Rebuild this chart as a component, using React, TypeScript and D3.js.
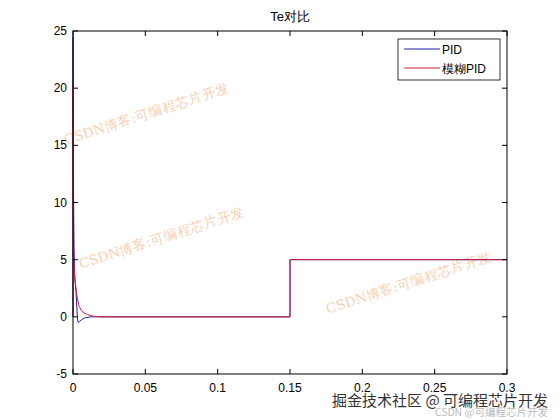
import * as d3 from "d3";

const W = 560;
const H = 420;
const M = { left: 73, right: 53, top: 31, bottom: 46 };

const xTicks = [0, 0.05, 0.1, 0.15, 0.2, 0.25, 0.3];
const yTicks = [-5, 0, 5, 10, 15, 20, 25];

// PID response (t, Te)
const pidT = [0, 0.00001, 0.0003, 0.0007, 0.0012, 0.0021, 0.0028, 0.0032, 0.0036, 0.0045, 0.006, 0.008, 0.012, 0.15, 0.15, 0.3];
const pidV = [0, 24.5, 12, 6, 3.5, 2.1, 0.5, -0.26, -0.5, -0.4, -0.25, -0.1, 0, 0, 5, 5];

// fuzzy PID response
const fuzT = [0, 0.00001, 0.0002, 0.0005, 0.001, 0.0016, 0.0025, 0.004, 0.006, 0.0076, 0.01, 0.014, 0.02, 0.15, 0.15, 0.3];
const fuzV = [0, 20.5, 10, 5, 3.8, 3.0, 2.0, 1.0, 0.5, 0.35, 0.2, 0.05, 0, 0, 5, 5];

const seriesNames = ["PID", "模糊PID"];
const seriesColors = ["#1c1ca6", "#d6203a"];

const watermark = "CSDN博客:可编程芯片开发";
const watermarkAt = [
  [148, 118],
  [163, 242],
  [410, 287],
];

export default function App() {
  const x = d3.scaleLinear().domain([0, 0.3]).range([M.left, W - M.right]);
  const y = d3.scaleLinear().domain([-5, 25]).range([H - M.bottom, M.top]);
  const line = d3
    .line<[number, number]>()
    .x((d) => x(d[0]))
    .y((d) => y(d[1]));

  const pid = pidT.map((t, i) => [t, pidV[i]] as [number, number]);
  const fuz = fuzT.map((t, i) => [t, fuzV[i]] as [number, number]);

  const x0 = M.left;
  const x1 = W - M.right;
  const y0 = H - M.bottom;
  const y1 = M.top;
  const font = "Liberation Sans, Arial, sans-serif";

  return (
    <svg width={W} height={H} style={{ position: "absolute", left: 0, top: 0, background: "#fff" }}>
      <text x={(x0 + x1) / 2} y={21} textAnchor="middle" fontFamily={font} fontSize={13}>
        Te对比
      </text>
      <rect x={x0} y={y1} width={x1 - x0} height={y0 - y1} fill="#fff" />

      {watermarkAt.map(([cx, cy], i) => (
        <text
          key={i}
          x={cx}
          y={cy}
          textAnchor="middle"
          fontFamily="DejaVu Serif, serif"
          fontSize={13.5}
          fill="#f8cfb2"
          transform={`rotate(-18 ${cx} ${cy})`}
        >
          {watermark}
        </text>
      ))}

      <path d={line(pid) ?? ""} fill="none" stroke={seriesColors[0]} strokeWidth={1} />
      <path d={line(fuz) ?? ""} fill="none" stroke={seriesColors[1]} strokeWidth={1} />

      <rect x={x0} y={y1} width={x1 - x0} height={y0 - y1} fill="none" stroke="#000" strokeWidth={1} />
      {xTicks.map((t) => (
        <g key={"x" + t}>
          <line x1={x(t)} x2={x(t)} y1={y0} y2={y0 - 5} stroke="#000" />
          <line x1={x(t)} x2={x(t)} y1={y1} y2={y1 + 5} stroke="#000" />
          <text x={x(t)} y={y0 + 18} textAnchor="middle" fontFamily={font} fontSize={12}>
            {t}
          </text>
        </g>
      ))}
      {yTicks.map((t) => (
        <g key={"y" + t}>
          <line x1={x0} x2={x0 + 5} y1={y(t)} y2={y(t)} stroke="#000" />
          <line x1={x1} x2={x1 - 5} y1={y(t)} y2={y(t)} stroke="#000" />
          <text x={x0 - 6} y={y(t) + 4} textAnchor="end" fontFamily={font} fontSize={12}>
            {t}
          </text>
        </g>
      ))}

      <g transform="translate(398,39)">
        <rect width={102} height={41} fill="#fff" stroke="#000" strokeWidth={0.8} />
        {seriesNames.map((n, i) => (
          <g key={n} transform={`translate(0,${10 + i * 19})`}>
            <line x1={6} x2={42} y1={0} y2={0} stroke={seriesColors[i]} />
            <text x={44} y={4.5} fontFamily={font} fontSize={12}>
              {n}
            </text>
          </g>
        ))}
      </g>

      <text x={548} y={406} textAnchor="end" fontFamily="Noto Sans CJK SC, sans-serif" fontSize={15} fill="#333" stroke="#fff" strokeWidth={0.5} paintOrder="stroke">
        掘金技术社区 @ 可编程芯片开发
      </text>
      <text x={548} y={416} textAnchor="end" fontFamily="Noto Sans CJK SC, sans-serif" fontSize={10.5} fill="#bbb">
        CSDN @可编程芯片开发
      </text>
    </svg>
  );
}
